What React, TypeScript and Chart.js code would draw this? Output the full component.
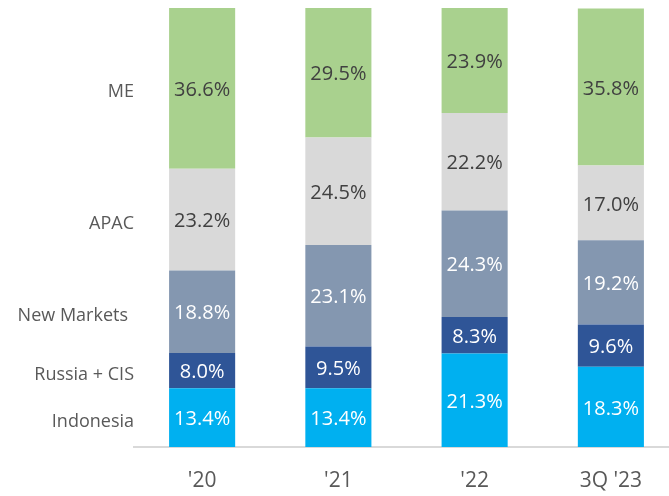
import React, { useEffect, useRef } from "react";
import { Chart, registerables } from "chart.js";

Chart.register(...registerables);

const categories = ["'20", "'21", "'22", "3Q '23"];
const seriesNames = ["Indonesia", "Russia + CIS", "New Markets", "APAC", "ME"];
const indonesia = [13.4, 13.4, 21.3, 18.3];
const russiaCis = [8.0, 9.5, 8.3, 9.6];
const newMarkets = [18.8, 23.1, 24.3, 19.2];
const apac = [23.2, 24.5, 22.2, 17.0];
const me = [36.6, 29.5, 23.9, 35.8];

const seriesValues = [indonesia, russiaCis, newMarkets, apac, me];
const seriesColors = ["#00b0f0", "#2f5597", "#8497b0", "#d9d9d9", "#a9d18e"];
const labelColors = ["#ffffff", "#ffffff", "#ffffff", "#404040", "#404040"];
const FONT = "'Open Sans', 'Noto Sans', sans-serif";

const labelsPlugin = {
  id: "segLabels",
  afterDatasetsDraw(chart: any) {
    const ctx = chart.ctx;
    ctx.save();
    ctx.textAlign = "center";
    ctx.textBaseline = "middle";
    chart.data.datasets.forEach((ds: any, di: number) => {
      const meta = chart.getDatasetMeta(di);
      ctx.fillStyle = labelColors[di];
      ctx.font = `20px ${FONT}`;
      meta.data.forEach((el: any, i: number) => {
        const v = ds.data[i];
        const y = (el.y + el.base) / 2 + 2;
        ctx.fillText(v.toFixed(1) + "%", el.x, y);
      });
      const first = meta.data[0];
      if (first) {
        ctx.save();
        ctx.textAlign = "right";
        ctx.fillStyle = "#595959";
        ctx.font = `18px ${FONT}`;
        const y = (first.y + first.base) / 2 + 4;
        const name = seriesNames[di];
        const rightX = chart.chartArea.left + (name === "New Markets" ? -6 : 0);
        ctx.fillText(name, rightX, y);
        ctx.restore();
      }
    });
    ctx.restore();
  },
};

export default function App() {
  const ref = useRef<HTMLCanvasElement | null>(null);
  useEffect(() => {
    if (!ref.current) return;
    const chart = new Chart(ref.current, {
      type: "bar",
      data: {
        labels: categories,
        datasets: seriesValues.map((vals, i) => ({
          label: seriesNames[i],
          data: vals,
          backgroundColor: seriesColors[i],
          borderWidth: 0,
          barPercentage: 0.485,
          categoryPercentage: 1,
        })),
      },
      options: {
        animation: false,
        responsive: false,
        maintainAspectRatio: false,
        layout: { padding: { left: 134, right: 11, top: 8, bottom: 0 } },
        plugins: { legend: { display: false }, tooltip: { enabled: false } },
        scales: {
          x: {
            stacked: true,
            grid: { display: false, drawTicks: false },
            border: { display: true, color: "#d9d9d9", width: 2 },
            ticks: {
              color: "#595959",
              font: { size: 21, family: FONT },
              padding: 21,
            },
            afterFit(scale: any) {
              scale.height = 49;
            },
          },
          y: {
            stacked: true,
            display: false,
            min: 0,
            max: 100,
          },
        },
      },
      plugins: [labelsPlugin],
    });
    return () => chart.destroy();
  }, []);
  return (
    <div
      style={{
        position: "fixed",
        left: 0,
        top: 0,
        width: 669,
        height: 496,
        overflow: "hidden",
        background: "#fff",
      }}
    >
      <canvas ref={ref} width={690} height={496} style={{ display: "block" }} />
    </div>
  );
}
